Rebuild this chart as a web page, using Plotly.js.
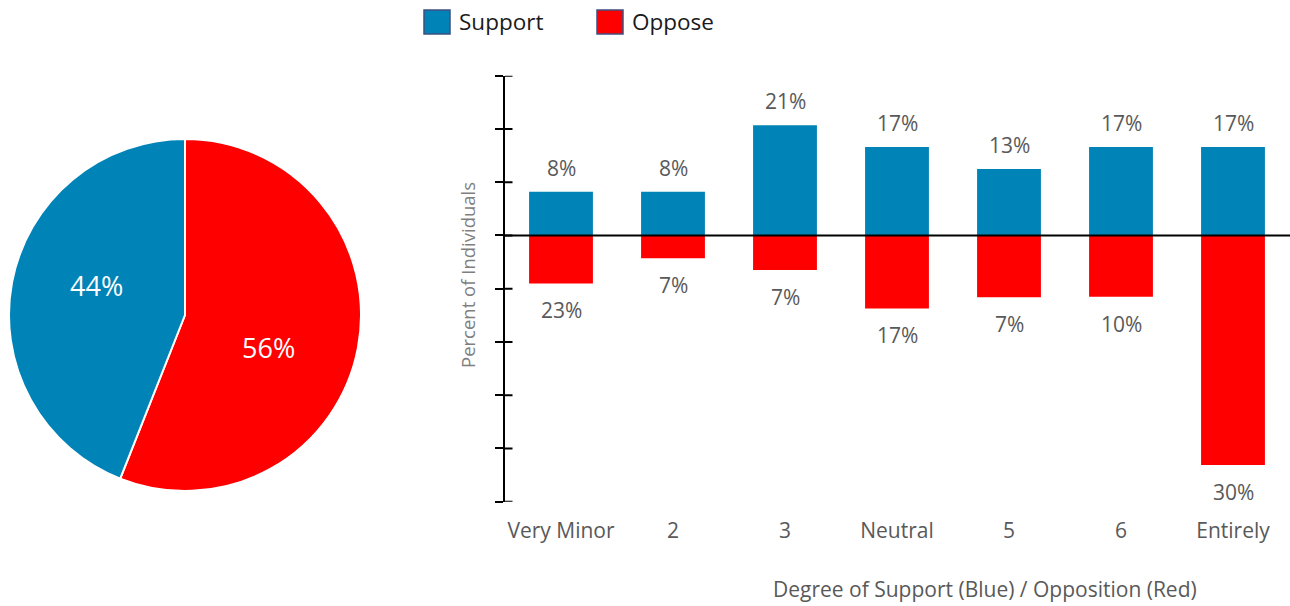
<!DOCTYPE html>
<html>
<head>
<meta charset="utf-8">
<script src="https://cdn.plot.ly/plotly-3.0.1.min.js"></script>
<style>
html,body{margin:0;padding:0;background:#fff;}
#chart{width:1290px;height:606px;}
</style>
</head>
<body>
<div id="chart"></div>
<script>
// ---- data ----
const categories = ['Very Minor', '2', '3', 'Neutral', '5', '6', 'Entirely'];
const supportValues = [8.2, 8.2, 20.7, 16.6, 12.5, 16.6, 16.6];
const opposeValues = [-9.0, -4.3, -6.5, -13.7, -11.6, -11.5, -43.1];
const supportLabels = ['8%', '8%', '21%', '17%', '13%', '17%', '17%'];
const opposeLabels = ['23%', '7%', '7%', '17%', '7%', '10%', '30%'];
const seriesNames = ['Support', 'Oppose'];
const pieLabels = ['Oppose', 'Support'];
const pieValues = [56, 44];
const yTickVals = [30, 20, 10, 0, -10, -20, -30, -40, -50];

// ---- styles ----
const BLUE = '#0083B7';
const RED = '#FF0000';
const W = 1290, H = 606;
const px = x => x / W;
const py = y => 1 - y / H;
const FONT = 'Open Sans, Noto Sans, sans-serif';

const traces = [
  {
    type: 'pie',
    labels: pieLabels,
    values: pieValues,
    sort: false,
    direction: 'clockwise',
    rotation: 0,
    marker: {colors: [RED, BLUE], line: {color: '#ffffff', width: 2}},
    textinfo: 'none',
    domain: {x: [px(9), px(361)], y: [py(491), py(139)]},
    showlegend: false,
    hoverinfo: 'label+percent'
  },
  {
    type: 'bar',
    name: seriesNames[0],
    x: categories,
    y: supportValues,
    marker: {color: BLUE},
    xaxis: 'x', yaxis: 'y',
    showlegend: false
  },
  {
    type: 'bar',
    name: seriesNames[1],
    x: categories,
    y: opposeValues,
    marker: {color: RED},
    xaxis: 'x', yaxis: 'y',
    showlegend: false
  }
];

const annotations = [];
categories.forEach((c, i) => {
  // x given as category index (category names like '2' would be read as indices)
  annotations.push({
    x: i, y: supportValues[i], xref: 'x', yref: 'y',
    text: supportLabels[i], showarrow: false, yshift: 24,
    xanchor: 'center', yanchor: 'middle',
    font: {family: FONT, size: 21, color: '#595959'}
  });
  annotations.push({
    x: i, y: opposeValues[i], xref: 'x', yref: 'y',
    text: opposeLabels[i], showarrow: false, yshift: -27,
    xanchor: 'center', yanchor: 'middle',
    font: {family: FONT, size: 21, color: '#595959'}
  });
});
// pie percentage labels
const pieTotal = pieValues.reduce((a, b) => a + b, 0);
const piePctPos = [[268, 347], [96, 285]];
pieValues.forEach((v, i) => {
  annotations.push({
    xref: 'paper', yref: 'paper', x: px(piePctPos[i][0]), y: py(piePctPos[i][1]),
    text: Math.round(100 * v / pieTotal) + '%', showarrow: false,
    xanchor: 'center', yanchor: 'middle',
    font: {family: FONT, size: 27, color: '#ffffff'}
  });
});
// axis titles
annotations.push({
  xref: 'paper', yref: 'paper', x: px(467), y: py(275), textangle: -90,
  text: 'Percent of Individuals', showarrow: false,
  xanchor: 'center', yanchor: 'middle',
  font: {family: FONT, size: 18.5, color: '#7f7f7f'}
});
annotations.push({
  xref: 'paper', yref: 'paper', x: px(985), y: py(589),
  text: 'Degree of Support (Blue) / Opposition (Red)', showarrow: false,
  xanchor: 'center', yanchor: 'middle',
  font: {family: FONT, size: 21, color: '#595959'}
});
// legend texts
annotations.push({
  xref: 'paper', yref: 'paper', x: px(457), y: py(22),
  text: seriesNames[0], showarrow: false, xanchor: 'left', yanchor: 'middle',
  font: {family: FONT, size: 22.5, color: '#1a1a1a'}
});
annotations.push({
  xref: 'paper', yref: 'paper', x: px(630), y: py(22),
  text: seriesNames[1], showarrow: false, xanchor: 'left', yanchor: 'middle',
  font: {family: FONT, size: 22.5, color: '#1a1a1a'}
});

const shapes = [
  // zero line above bars
  {type: 'line', xref: 'paper', yref: 'y', x0: px(505), x1: 1, y0: 0, y1: 0,
   line: {color: '#000000', width: 2}, layer: 'above'},
  // legend swatches
  {type: 'rect', xref: 'paper', yref: 'paper', x0: px(424), x1: px(450), y0: py(34), y1: py(10),
   fillcolor: BLUE, line: {color: '#3f4f80', width: 1.5}},
  {type: 'rect', xref: 'paper', yref: 'paper', x0: px(597), x1: px(623), y0: py(34), y1: py(10),
   fillcolor: RED, line: {color: '#3f4f80', width: 1.5}}
];
// inner half of the cross tick marks on the y axis
yTickVals.forEach(t => {
  shapes.push({type: 'line', xref: 'paper', yref: 'y', x0: px(505), x1: px(512.5), y0: t, y1: t,
    line: {color: '#000000', width: 2}, layer: 'above'});
});

const layout = {
  width: W, height: H,
  margin: {l: 0, r: 0, t: 0, b: 0},
  paper_bgcolor: '#ffffff',
  plot_bgcolor: 'rgba(0,0,0,0)',
  font: {family: FONT, color: '#595959'},
  showlegend: false,
  barmode: 'relative',
  bargap: 0.43,
  xaxis: {
    type: 'category',
    domain: [px(505), px(1289)],
    range: [-0.5, 6.5],
    showgrid: false, zeroline: false, showline: false,
    ticks: '', ticklabelstandoff: 14,
    tickfont: {family: FONT, size: 21, color: '#595959'},
    fixedrange: true
  },
  yaxis: {
    domain: [py(501.7), py(75.7)],
    range: [-50, 30],
    tickvals: yTickVals,
    showticklabels: false,
    showgrid: false, zeroline: false,
    showline: true, linecolor: '#000000', linewidth: 2,
    ticks: 'outside', ticklen: 8, tickwidth: 2, tickcolor: '#000000',
    anchor: 'x', fixedrange: true
  },
  annotations: annotations,
  shapes: shapes
};

Plotly.newPlot('chart', traces, layout, {displayModeBar: false, staticPlot: true});
</script>
</body>
</html>
